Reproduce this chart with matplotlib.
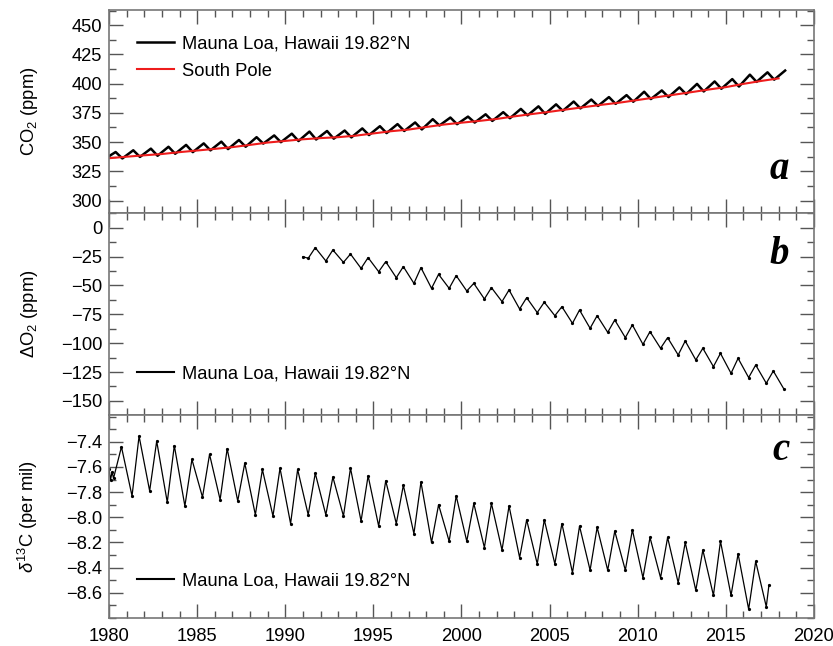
import matplotlib
matplotlib.use("Agg")
import matplotlib.pyplot as plt
from matplotlib.ticker import MultipleLocator

plt.rcParams['font.family'] = ['Liberation Sans', 'DejaVu Sans']
plt.rcParams['mathtext.fontset'] = 'custom'
plt.rcParams['mathtext.rm'] = 'Liberation Sans'
plt.rcParams['mathtext.it'] = 'Liberation Sans:italic'

# ---- panel a: CO2 (ppm) ----
# Mauna Loa seasonal maxima (May) 1980-2018 and minima (Sep/Oct) 1980-2017
mlo_start = (1980.0, 338.0)
mlo_max_years = list(range(1980, 2019))
mlo_max = [341.5, 343.0, 344.4, 346.0, 347.6, 348.9, 350.4, 351.8, 354.2, 355.7,
           357.2, 359.0, 359.5, 359.9, 361.7, 363.6, 365.4, 366.8, 369.6, 371.0,
           371.8, 373.8, 375.6, 378.4, 380.6, 382.3, 384.7, 386.4, 388.5, 390.2,
           393.1, 394.2, 396.8, 399.8, 401.9, 403.9, 407.7, 409.7, 411.2]
mlo_min_years = list(range(1980, 2018))
mlo_min = [336.0, 337.3, 338.3, 340.0, 341.4, 342.9, 344.0, 346.0, 348.7, 349.9,
           350.9, 352.2, 352.9, 354.0, 356.0, 357.7, 359.5, 360.8, 364.2, 365.3,
           366.7, 368.1, 370.4, 372.8, 374.1, 376.7, 378.8, 380.9, 382.7, 384.5,
           386.8, 388.5, 391.0, 393.3, 395.6, 397.5, 401.5, 403.4]
mlo_max_phase = 0.37
mlo_min_phase = 0.75

spo_years = list(range(1980, 2019))
spo_co2 = [336.2, 337.5, 338.7, 339.8, 341.4, 342.8, 344.2, 345.7, 347.6, 349.6,
           351.0, 352.4, 353.4, 354.2, 355.5, 357.4, 359.3, 360.7, 362.9, 365.0,
           366.6, 368.1, 369.8, 372.0, 374.0, 375.9, 378.0, 380.0, 382.0, 383.8,
           386.0, 388.2, 390.4, 392.6, 394.9, 397.0, 399.8, 402.3, 404.5]

# ---- panel b: delta O2 (ppm), Mauna Loa ----
o2_start = (1991.0, -25.1)
o2_min_years = list(range(1991, 2019))
o2_min = [-26.5, -28.8, -30.0, -35.2, -38.1, -43.3, -48.2, -52.5, -52.5, -54.8,
          -61.7, -64.0, -70.4, -73.5, -76.2, -82.8, -87.1, -90.6, -95.2, -101.0,
          -104.4, -110.2, -114.5, -120.3, -126.1, -129.8, -134.7, -139.7]
o2_max_years = list(range(1991, 2018))
o2_max = [-17.3, -19.3, -22.8, -25.9, -29.4, -33.7, -34.6, -40.4, -41.5, -48.2,
          -51.9, -53.9, -60.6, -64.5, -68.4, -71.3, -76.2, -79.9, -84.2, -90.0,
          -95.2, -98.1, -104.4, -108.8, -113.1, -118.9, -124.1]
o2_min_phase = 0.3
o2_max_phase = 0.7

# ---- panel c: d13C (per mil), Mauna Loa ----
d13_start_t = [1980.0, 1980.08, 1980.17, 1980.25]
d13_start = [-7.62, -7.70, -7.64, -7.69]
d13_max_years = list(range(1980, 2017))
d13_max = [-7.44, -7.355, -7.395, -7.43, -7.54, -7.50, -7.455, -7.57, -7.62, -7.61,
           -7.62, -7.65, -7.68, -7.61, -7.67, -7.71, -7.745, -7.72, -7.90, -7.83,
           -7.89, -7.89, -7.91, -8.02, -8.02, -8.05, -8.07, -8.08, -8.11, -8.10,
           -8.16, -8.16, -8.20, -8.26, -8.19, -8.29, -8.35]
d13_min_years = list(range(1981, 2018))
d13_min = [-7.83, -7.79, -7.88, -7.91, -7.84, -7.86, -7.87, -7.98, -7.99, -8.05,
           -7.98, -7.98, -7.99, -8.03, -8.07, -8.05, -8.13, -8.20, -8.19, -8.19,
           -8.24, -8.26, -8.32, -8.37, -8.37, -8.44, -8.42, -8.42, -8.42, -8.48,
           -8.48, -8.52, -8.58, -8.62, -8.62, -8.73, -8.71]
d13_end = (2017.45, -8.54)
d13_max_phase = 0.7
d13_min_phase = 0.3

site = 'Mauna Loa, Hawaii 19.82°N'


def series(extra, hi_years, hi, hi_ph, lo_years, lo, lo_ph):
    pts = list(extra)
    pts += [(y + hi_ph, v) for y, v in zip(hi_years, hi)]
    pts += [(y + lo_ph, v) for y, v in zip(lo_years, lo)]
    pts.sort()
    return [p[0] for p in pts], [p[1] for p in pts]


mlo_t, mlo_v = series([mlo_start], mlo_max_years, mlo_max, mlo_max_phase,
                      mlo_min_years, mlo_min, mlo_min_phase)
o2_t, o2_v = series([o2_start], o2_max_years, o2_max, o2_max_phase,
                    o2_min_years, o2_min, o2_min_phase)
d13_t, d13_v = series(list(zip(d13_start_t, d13_start)) + [d13_end],
                      d13_max_years, d13_max, d13_max_phase,
                      d13_min_years, d13_min, d13_min_phase)

fig = plt.figure(figsize=(8.33, 6.46), dpi=100)
gs = fig.add_gridspec(3, 1, left=0.131, right=0.977, top=0.9845, bottom=0.0433, hspace=0)
axs = [fig.add_subplot(gs[i]) for i in range(3)]

fs = 13.2
ax = axs[0]
ax.plot(mlo_t, mlo_v, color='black', lw=1.8, label=site)
ax.plot(spo_years, spo_co2, color='#ee1c1c', lw=1.5, label='South Pole')
ax.set_ylim(289.6, 463)
ax.set_yticks([300, 325, 350, 375, 400, 425, 450])
ax.yaxis.set_minor_locator(MultipleLocator(12.5))
ax.set_ylabel('CO$_2$ (ppm)')
ax.legend(loc='upper left', bbox_to_anchor=(0.016, 0.955), frameon=False,
          handlelength=2.0, handletextpad=0.45, fontsize=fs, labelspacing=0.55)
ax.text(0.965, 0.168, 'a', transform=ax.transAxes, ha='right', va='baseline',
        fontsize=28, fontweight='bold', fontstyle='italic', family='Liberation Serif')

ax = axs[1]
ax.plot(o2_t, o2_v, color='black', lw=0.9, marker='o', ms=1.3, label=site)
ax.set_ylim(-162.5, 13)
ax.set_yticks([-150, -125, -100, -75, -50, -25, 0])
ax.yaxis.set_minor_locator(MultipleLocator(12.5))
ax.set_ylabel(r'$\Delta$O$_2$ (ppm)')
leg = ax.legend(loc='lower left', bbox_to_anchor=(0.016, 0.08), frameon=False,
                handlelength=2.0, handletextpad=0.45, fontsize=fs)
leg.get_lines()[0].set_marker('')
leg.get_lines()[0].set_linewidth(1.5)
ax.text(0.965, 0.749, 'b', transform=ax.transAxes, ha='right', va='baseline',
        fontsize=28, fontweight='bold', fontstyle='italic', family='Liberation Serif')

ax = axs[2]
ax.plot(d13_t, d13_v, color='black', lw=0.9, marker='o', ms=1.3, label=site)
ax.set_ylim(-8.8, -7.19)
ax.set_yticks([-8.6, -8.4, -8.2, -8.0, -7.8, -7.6, -7.4])
ax.yaxis.set_minor_locator(MultipleLocator(0.1))
ax.set_ylabel(r'$\delta^{13}$C (per mil)')
leg = ax.legend(loc='lower left', bbox_to_anchor=(0.016, 0.06), frameon=False,
                handlelength=2.0, handletextpad=0.45, fontsize=fs)
leg.get_lines()[0].set_marker('')
leg.get_lines()[0].set_linewidth(1.5)
ax.text(0.965, 0.778, 'c', transform=ax.transAxes, ha='right', va='baseline',
        fontsize=28, fontweight='bold', fontstyle='italic', family='Liberation Serif')

for i, ax in enumerate(axs):
    ax.set_xlim(1980, 2020)
    ax.set_xticks(range(1980, 2021, 5))
    ax.xaxis.set_minor_locator(MultipleLocator(1))
    ax.tick_params(which='both', direction='in', top=True, right=True,
                   color='#555555', labelsize=fs, pad=5)
    ax.tick_params(axis='x', pad=7)
    ax.tick_params(which='major', length=10, width=1.0)
    ax.tick_params(which='minor', length=5, width=1.0)
    ax.yaxis.label.set_size(fs)
    ax.yaxis.set_label_coords(-0.098, 0.5)
    for s in ax.spines.values():
        s.set_color('#777777')
        s.set_linewidth(1.2)
    if i < 2:
        ax.tick_params(labelbottom=False)

fig.savefig('out.png', dpi=100)
